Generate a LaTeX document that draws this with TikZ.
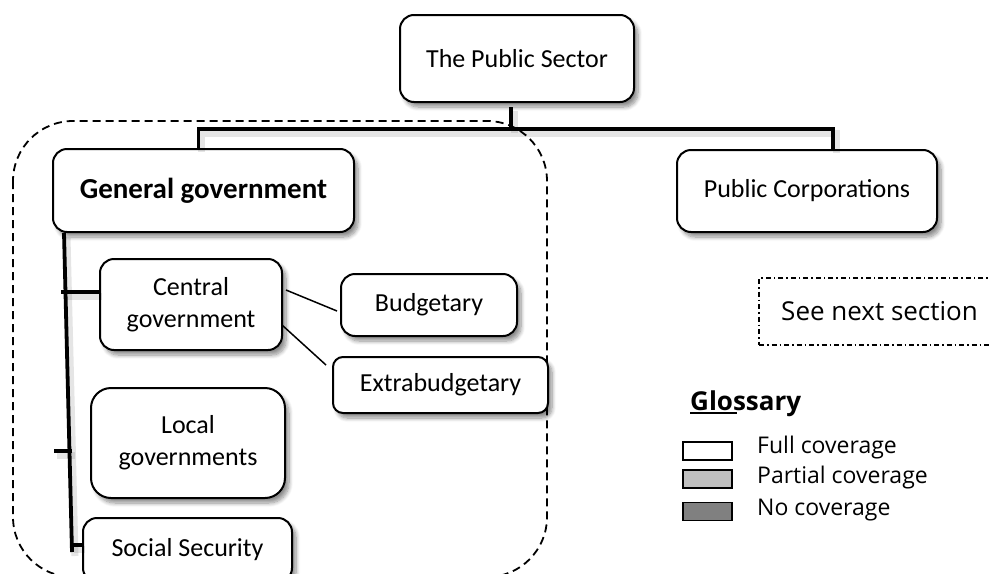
\documentclass[tikz,border=0pt]{standalone}
\usepackage{fontspec}
\setmainfont{Carlito}
\newfontfamily\uifont{Open Sans}
\usetikzlibrary{shadows.blur,calc}
\begin{document}
\begin{tikzpicture}[x=1pt,y=-1pt,
  orgbox/.style={draw=black, line width=2pt, fill=white, rounded corners=14pt,
    align=center, inner sep=0pt, font=\fontsize{26}{32}\selectfont,
    blur shadow={shadow xshift=4pt, shadow yshift=-5pt, shadow blur steps=8, shadow blur radius=4pt, shadow opacity=45}},
  trunk/.style={line width=3.8pt},
  trunkshade/.style={line width=7pt, black, opacity=0.10, transform canvas={xshift=3pt, yshift=-4pt}},
  twig/.style={line width=1.5pt},
  region/.style={draw=black, line width=1.8pt, dash pattern=on 8pt off 5pt, rounded corners=60pt},
  dashdotbox/.style={draw=black, line width=1.3pt, dash pattern=on 5pt off 3pt on 1.5pt off 3pt,
    inner sep=0pt, font=\uifont\fontsize{26}{30}\selectfont},
  keybox/.style={draw=black, line width=1.5pt, minimum width=49pt, minimum height=18pt, inner sep=0pt},
  keytext/.style={anchor=base west, inner sep=0pt, font=\uifont\fontsize{23}{26}\selectfont}
]
\useasboundingbox (0,0) rectangle (990,573);
\clip (0,0) rectangle (990,573);

% general government grouping
\draw[region] (13,121) rectangle (547,577);

% boxes
\node[orgbox, minimum width=234pt, minimum height=87pt] (ps) at (517,58.5) {The Public Sector};
\node[orgbox, minimum width=301pt, minimum height=83pt, font=\bfseries\fontsize{29}{34}\selectfont] (gg) at (203.5,190.5) {General government};
\node[orgbox, minimum width=260pt, minimum height=82pt] (pc) at (807,191) {Public Corporations};
\node[orgbox, minimum width=182pt, minimum height=91pt] (central) at (191,304.5) {Central\\government};
\node[orgbox, minimum width=176pt, minimum height=62pt] (budget) at (429,305) {Budgetary};
\node[orgbox, minimum width=215pt, minimum height=56pt, rounded corners=10pt] (extra) at (440.5,385) {Extrabudgetary};
\node[orgbox, minimum width=194pt, minimum height=110pt, rounded corners=20pt] (local) at (188,443) {Local\\governments};
\node[orgbox, minimum width=209pt, minimum height=64pt] (ss) at (187.5,550) {Social Security};

% top-level bus (soft shade first, then the line)
\coordinate (bus) at (0,129);
\foreach \sty in {trunkshade, trunk} {
  \draw[\sty] ([xshift=-6pt,yshift=-4pt]ps.south) -- ([xshift=-6pt]ps.south |- bus);
  \draw[\sty] ([xshift=-5pt]gg.north) -- ([xshift=-5pt]gg.north |- bus)
    -- ([xshift=26pt]pc.north |- bus) -- ([xshift=26pt]pc.north);
}

% spine of general government
\coordinate (spineend) at (72,552);
\foreach \sty in {trunkshade, trunk} {
  \draw[\sty] ([xshift=12pt]gg.south west) -- (spineend);
  \draw[\sty] ([yshift=12.5pt]central.west) -- ++(-38,0);
  \draw[\sty] ([xshift=-18pt,yshift=-8pt]local.west) -- ++(-18,0);
  \draw[\sty] ([yshift=5pt]ss.west) -- ++(-11,0);
}

% central government breakdown
\draw[twig] ([xshift=3pt,yshift=14.5pt]central.east) -- ([xshift=-3pt,yshift=-6pt]budget.west);
\draw[twig] ([xshift=-1pt,yshift=-20.5pt]central.east) -- ([xshift=-6pt,yshift=-9pt]extra.north west);

% pointer to the next section
\node[dashdotbox, minimum width=241pt, minimum height=67pt] (seenext) at (879.5,311.5) {See next section};

% glossary
\begin{scope}
  \clip (680,385) rectangle (830,416);
  \node[anchor=base west, inner sep=0pt, font=\uifont\bfseries\fontsize{26}{30}\selectfont] (gl) at (690,410) {Glossary};
\end{scope}
\draw[line width=2pt] ([yshift=-3pt]gl.base west) -- ++(47,0);

\node[keybox, fill=white] (kfull) at (707.5,451) {};
\node[keybox, fill=black!25] (kpart) at (707.5,479) {};
\node[keybox, fill=black!50] (knone) at (707.5,511.5) {};
\node[keytext] (tfull) at (757,453) {Full coverage};
\node[keytext] (tpart) at (757,483) {Partial coverage};
\node[keytext] (tnone) at (757,515) {No coverage};
\end{tikzpicture}
\end{document}
